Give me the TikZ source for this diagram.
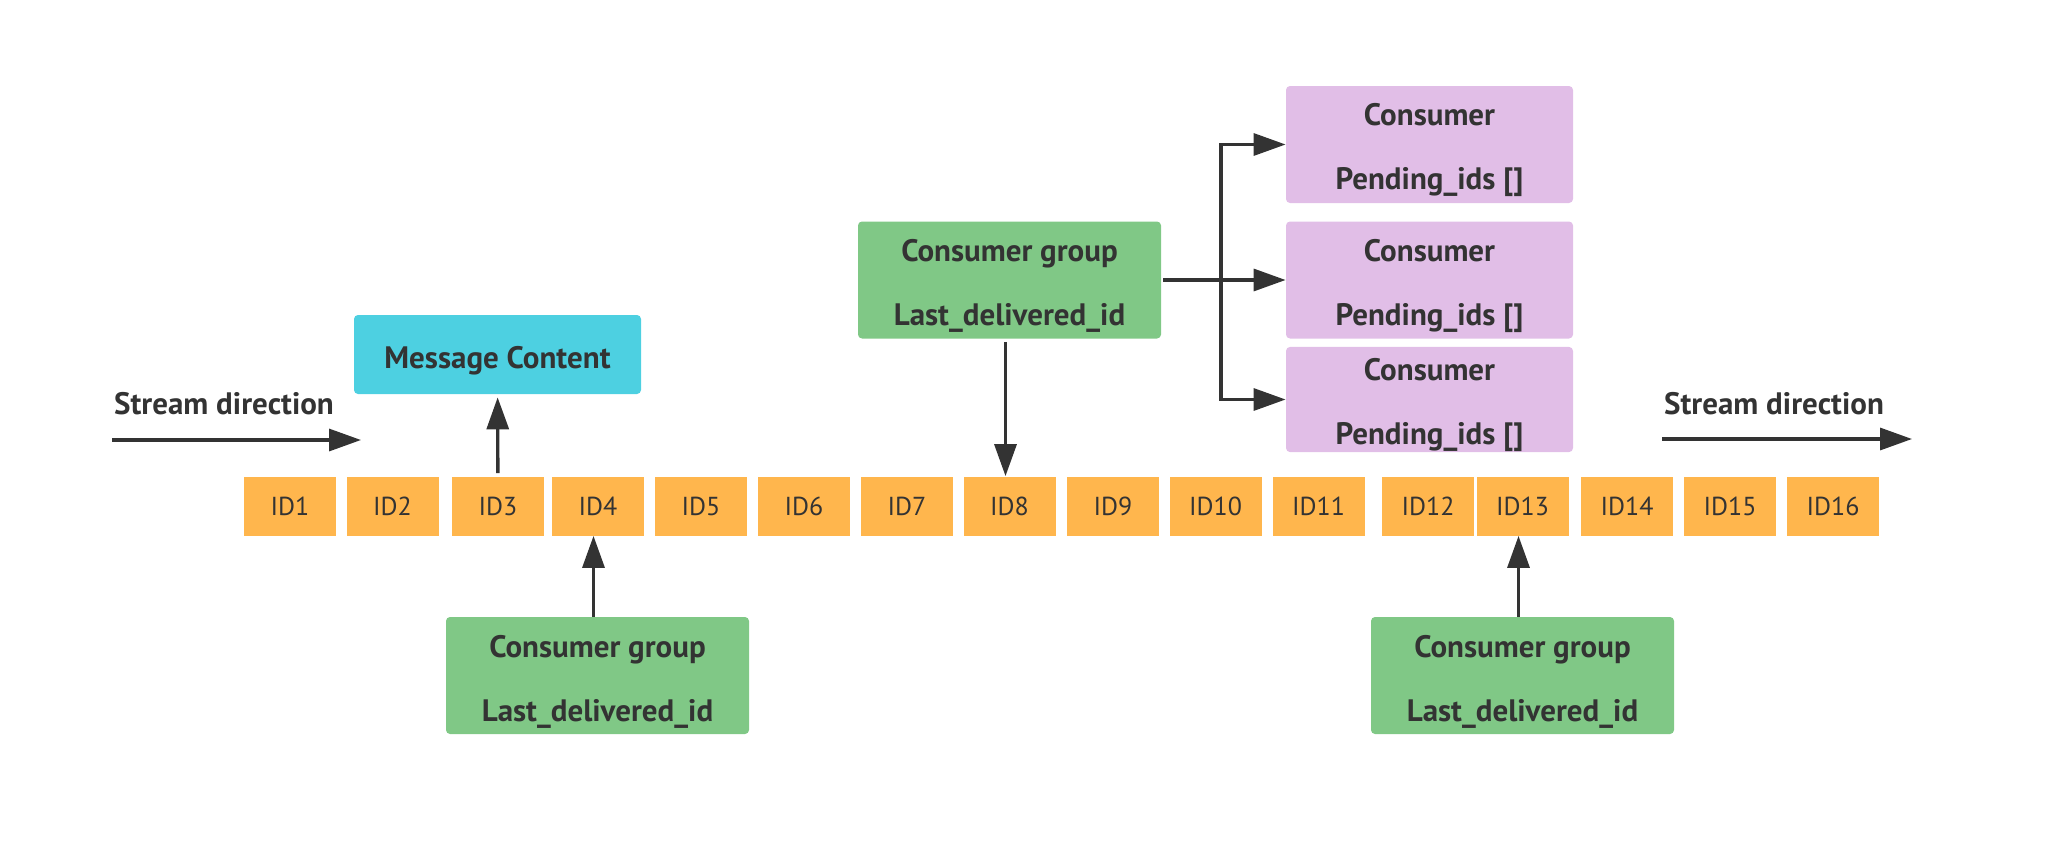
\documentclass[tikz,border=0pt]{standalone}
\usepackage{fontspec}
\setmainfont{PT Sans}
\usetikzlibrary{arrows.meta}
\newcommand{\padtop}{\rule{0pt}{17pt}}

\begin{document}
\begin{tikzpicture}[
	x=0.5pt, y=-0.5pt,
	idbox/.style={fill=idorange, text=txt, inner sep=0pt, minimum width=46pt, minimum height=29.5pt, font=\fontsize{13}{15}\selectfont},
	infobox/.style={rounded corners=2pt, text=txt, inner sep=0pt, align=center, minimum width=151.5pt, minimum height=58.5pt, font=\fontsize{15.5}{32}\selectfont\bfseries},
	groupbox/.style={infobox, fill=grpgreen},
	consbox/.style={infobox, fill=consmauve, minimum width=143.5pt},
	lbl/.style={text=txt, font=\fontsize{15.5}{18}\selectfont\bfseries},
	arr/.style={draw=txt, line width=1.65pt, -{Triangle[length=16pt, width=11pt]}}
	]
	% Define colors
	\definecolor{txt}{RGB}{51,51,51}          % dark grey - text and lines
	\definecolor{idorange}{RGB}{255,182,77}   % orange - stream entries
	\definecolor{grpgreen}{RGB}{128,200,134}  % green - consumer groups
	\definecolor{consmauve}{RGB}{225,190,231} % mauve - consumers
	\definecolor{msgcyan}{RGB}{77,208,225}    % cyan - message content

	\useasboundingbox (0,0) rectangle (2048,846);

	% Stream entries
	\node[idbox] (id1) at (290,506) {ID1};
	\node[idbox] (id2) at (392.5,506) {ID2};
	\node[idbox] (id3) at (498,506) {ID3};
	\node[idbox] (id4) at (598,506) {ID4};
	\node[idbox] (id5) at (701,506) {ID5};
	\node[idbox] (id6) at (804,506) {ID6};
	\node[idbox] (id7) at (907,506) {ID7};
	\node[idbox] (id8) at (1009.5,506) {ID8};
	\node[idbox] (id9) at (1113,506) {ID9};
	\node[idbox] (id10) at (1215.5,506) {ID10};
	\node[idbox] (id11) at (1318.5,506) {ID11};
	\node[idbox] (id12) at (1428,506) {ID12};
	\node[idbox] (id13) at (1522.5,506) {ID13};
	\node[idbox] (id14) at (1627,506) {ID14};
	\node[idbox] (id15) at (1730,506) {ID15};
	\node[idbox] (id16) at (1833,506) {ID16};

	% Stream direction, left and right
	\node[lbl] (dirL) at (224,404) {Stream direction};
	\coordinate (dirLa) at (112,440);
	\coordinate (dirLb) at (361,440);
	\draw[arr] (dirLa) -- (dirLb);
	\node[lbl] (dirR) at (1774,404) {Stream direction};
	\coordinate (dirRa) at (1662,439);
	\coordinate (dirRb) at (1912,439);
	\draw[arr] (dirRa) -- (dirRb);

	% Message content
	\node[infobox, fill=msgcyan, minimum width=143.5pt, minimum height=39.5pt] (msg) at (497.5,354.5) {\padtop Message Content};
	\draw[arr, shorten <=1.5pt, shorten >=1.5pt] (id3) -- (msg);

	% Consumer groups
	\node[groupbox] (grpA) at (597.5,675.5) {\padtop Consumer group\\Last\_delivered\_id};
	\node[groupbox] (grpB) at (1009.5,280) {\padtop Consumer group\\Last\_delivered\_id};
	\node[groupbox] (grpC) at (1522.5,675.5) {\padtop Consumer group\\Last\_delivered\_id};
	\draw[arr] ([xshift=-2pt]grpA.north) -- ([xshift=-2pt]grpA.north |- id4.south);
	\draw[arr, shorten <=1.5pt] ([xshift=-2pt]grpB.south) -- ([xshift=-2pt]grpB.south |- id8.north);
	\draw[arr] ([xshift=-2pt]grpC.north) -- ([xshift=-2pt]grpC.north |- id13.south);

	% Consumers of the middle group
	\node[consbox] (cons1) at (1429.5,144.5) {\padtop Consumer\\Pending\_ids []};
	\node[consbox] (cons2) at (1429.5,280) {\padtop Consumer\\Pending\_ids []};
	\node[consbox, minimum height=52.5pt] (cons3) at (1429.5,399.5) {\padtop Consumer\\Pending\_ids []};
	\coordinate (fork) at (1221,280);
	\draw[arr, shorten <=1pt] (grpB) -- (cons2);
	\draw[arr] (fork) |- (cons1);
	\draw[arr] (fork) |- (cons3);
\end{tikzpicture}
\end{document}
